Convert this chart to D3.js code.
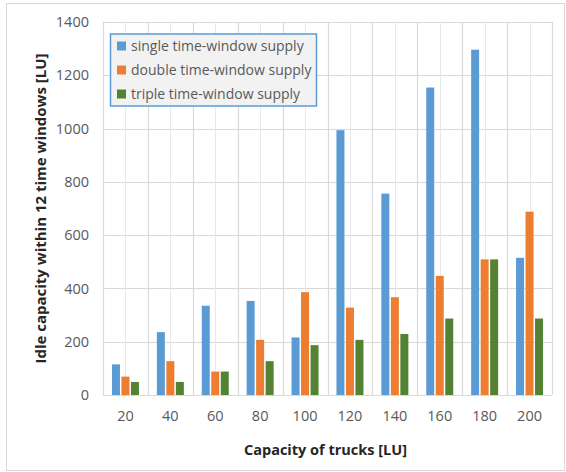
<!DOCTYPE html>
<html>
<head>
<meta charset="utf-8">
<script src="https://cdn.jsdelivr.net/npm/d3@7"></script>
<style>
  html, body { margin: 0; padding: 0; background: #ffffff; }
  svg { display: block; }
  text { font-family: "Open Sans", "Noto Sans", sans-serif; }
</style>
</head>
<body>
<svg id="chart" width="566" height="472"></svg>
<script>
// Truck capacity categories [LU]
const categories = ["20", "40", "60", "80", "100", "120", "140", "160", "180", "200"];

// Idle capacity within 12 time windows [LU], one array per supply scheme
const singleSupply = [115, 236, 335, 353, 216, 994, 756, 1154, 1296, 515];
const doubleSupply = [69, 127, 88, 207, 386, 328, 367, 447, 509, 688];
const tripleSupply = [49, 49, 88, 127, 187, 207, 229, 287, 509, 287];

const seriesNames = ["single time-window supply", "double time-window supply", "triple time-window supply"];
const seriesColors = ["#5b9bd5", "#ed7d31", "#548235"];
const yTicks = [0, 200, 400, 600, 800, 1000, 1200, 1400];

const series = [singleSupply, doubleSupply, tripleSupply].map((vals, i) => ({
  name: seriesNames[i], color: seriesColors[i], values: vals
}));

const svg = d3.select("#chart");
const W = 566, H = 472;
const plot = { left: 103, right: 552, top: 22, bottom: 395 };

// outer chart frame
svg.append("rect")
  .attr("x", 6.5).attr("y", 3.5)
  .attr("width", W - 8).attr("height", H - 5)
  .attr("fill", "#ffffff").attr("stroke", "#d9d9d9").attr("stroke-width", 1);

const x0 = d3.scaleBand().domain(categories).range([plot.left, plot.right]).padding(0);
const groupWidth = 27;
const x1 = d3.scaleBand().domain(d3.range(series.length)).range([0, groupWidth]).paddingInner(0.158);
const y = d3.scaleLinear().domain([0, 1400]).range([plot.bottom, plot.top]);

const grid = svg.append("g");
// horizontal gridlines
grid.selectAll("line.h").data(yTicks).join("line")
  .attr("x1", plot.left).attr("x2", plot.right)
  .attr("y1", d => Math.round(y(d)) + 0.5).attr("y2", d => Math.round(y(d)) + 0.5)
  .attr("stroke", "#d9d9d9").attr("stroke-width", 1.2);
// vertical gridlines at category boundaries
const bounds = categories.map(c => x0(c)).concat([plot.right]);
grid.selectAll("line.vb").data(bounds).join("line")
  .attr("x1", d => Math.round(d) + 0.5).attr("x2", d => Math.round(d) + 0.5)
  .attr("y1", plot.top).attr("y2", plot.bottom)
  .attr("stroke", "#d9d9d9").attr("stroke-width", 1.2);
// minor vertical gridlines at category centres
grid.selectAll("line.vm").data(categories).join("line")
  .attr("x1", d => Math.round(x0(d) + x0.bandwidth() / 2) + 0.5)
  .attr("x2", d => Math.round(x0(d) + x0.bandwidth() / 2) + 0.5)
  .attr("y1", plot.top).attr("y2", plot.bottom)
  .attr("stroke", "#e8e8e8").attr("stroke-width", 1);

// bars
const groups = svg.append("g").selectAll("g").data(categories).join("g")
  .attr("transform", c => `translate(${x0(c) + (x0.bandwidth() - groupWidth) / 2},0)`);
groups.selectAll("rect").data((c, ci) => series.map((s, si) => ({ si, v: s.values[ci], color: s.color })))
  .join("rect")
  .attr("x", d => x1(d.si))
  .attr("width", x1.bandwidth())
  .attr("y", d => y(d.v))
  .attr("height", d => y(0) - y(d.v))
  .attr("fill", d => d.color);

// y axis labels
const yAxis = svg.append("g").attr("transform", `translate(${plot.left},0)`)
  .call(d3.axisLeft(y).tickValues(yTicks).tickFormat(d3.format("d")).tickSize(0).tickPadding(14));
yAxis.select(".domain").remove();
yAxis.selectAll("text").attr("fill", "#595959").style("font-size", "14.5px")
  .style("font-family", "'Open Sans', sans-serif");

// x axis labels
const xAxis = svg.append("g").attr("transform", `translate(0,${plot.bottom})`)
  .call(d3.axisBottom(x0).tickSize(0).tickPadding(16));
xAxis.select(".domain").remove();
xAxis.selectAll("text").attr("fill", "#595959").style("font-size", "14.5px")
  .style("font-family", "'Open Sans', sans-serif");

// axis titles
svg.append("text")
  .attr("x", (plot.left + plot.right) / 2 - 2).attr("y", 455)
  .attr("text-anchor", "middle").attr("fill", "#262626")
  .style("font-size", "14.5px").style("font-weight", "bold")
  .text("Capacity of trucks [LU]");
svg.append("text")
  .attr("transform", `translate(46,${(plot.top + plot.bottom) / 2}) rotate(-90)`)
  .attr("text-anchor", "middle").attr("fill", "#262626")
  .style("font-size", "15px").style("font-weight", "bold")
  .text("Idle capacity within 12 time windows [LU]");

// legend
const lg = svg.append("g");
lg.append("rect")
  .attr("x", 110.5).attr("y", 34).attr("width", 206).attr("height", 72)
  .attr("fill", "#f2f2f2").attr("stroke", "#5b9bd5").attr("stroke-width", 1.5);
const rows = lg.selectAll("g.row").data(series).join("g")
  .attr("transform", (d, i) => `translate(117,${46 + i * 24})`);
rows.append("rect").attr("x", 0).attr("y", -4.5).attr("width", 9).attr("height", 9)
  .attr("fill", d => d.color);
rows.append("text").attr("x", 14).attr("y", 0).attr("dy", "0.35em")
  .attr("fill", "#595959").style("font-size", "14px")
  .text(d => d.name);
</script>
</body>
</html>
